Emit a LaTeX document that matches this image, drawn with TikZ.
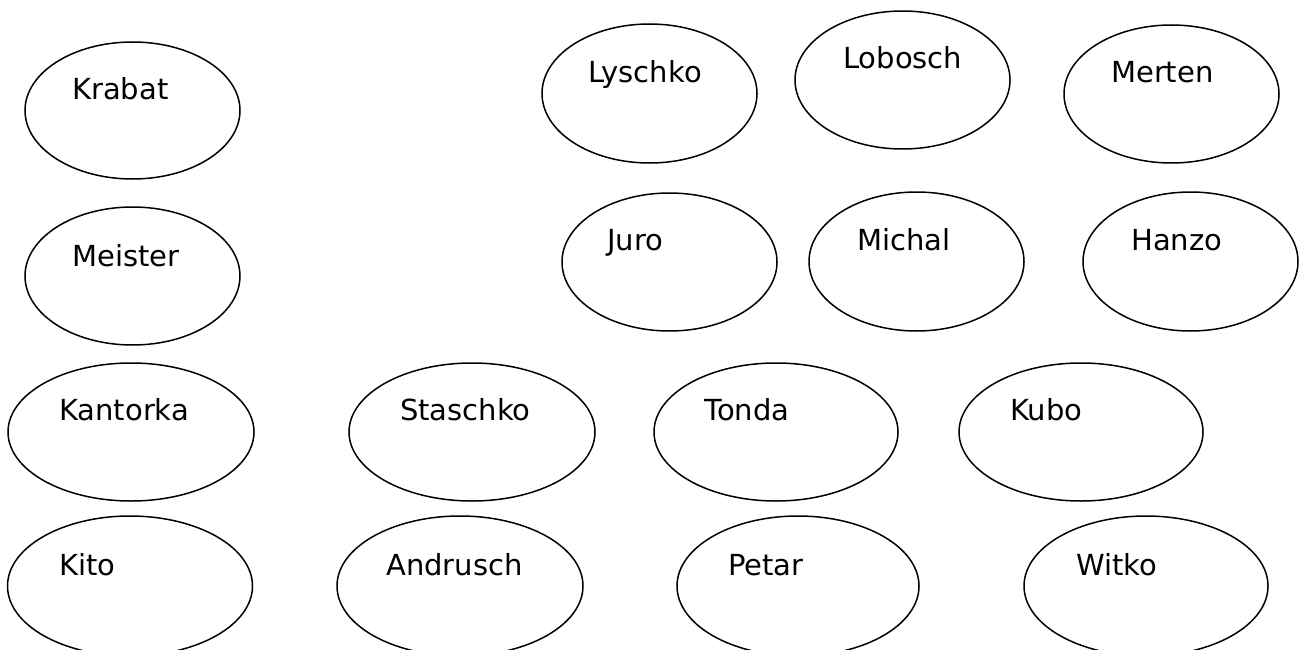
\documentclass[tikz,border=0pt]{standalone}
\usepackage{fontspec}
\setmainfont{DejaVu Sans}
\usetikzlibrary{shapes.geometric}
\begin{document}
\begin{tikzpicture}[x=1pt,y=-1pt,
  oval/.style={draw=black,line width=1.5pt,ellipse,inner sep=0pt},
  lbl/.style={anchor=base west,inner sep=0pt,font=\fontsize{29}{34}\selectfont}]
\useasboundingbox (0,0) rectangle (1301,650);
% ellipses
\node[oval,minimum width=215,minimum height=137] (krabat) at (132.5,110.5) {};
\node[oval,minimum width=215,minimum height=138] (meister) at (132.5,276) {};
\node[oval,minimum width=246,minimum height=138] (kantorka) at (131,432) {};
\node[oval,minimum width=245,minimum height=140] (kito) at (130,586) {};
\node[oval,minimum width=215,minimum height=139] (lyschko) at (649.5,93.5) {};
\node[oval,minimum width=215,minimum height=138] (lobosch) at (902.5,80) {};
\node[oval,minimum width=215,minimum height=138] (merten) at (1171.5,94) {};
\node[oval,minimum width=215,minimum height=138] (juro) at (669.5,262) {};
\node[oval,minimum width=215,minimum height=139] (michal) at (916.5,261.5) {};
\node[oval,minimum width=215,minimum height=139] (hanzo) at (1190.5,261.5) {};
\node[oval,minimum width=246,minimum height=138] (staschko) at (472,432) {};
\node[oval,minimum width=244,minimum height=138] (tonda) at (776,432) {};
\node[oval,minimum width=244,minimum height=138] (kubo) at (1081,432) {};
\node[oval,minimum width=246,minimum height=140] (andrusch) at (460,586) {};
\node[oval,minimum width=242,minimum height=140] (petar) at (798,586) {};
\node[oval,minimum width=244,minimum height=140] (witko) at (1146,586) {};
% labels
\node[lbl] (tkrabat) at (72,100) {Krabat};
\node[lbl] (tmeister) at (72,266) {Meister};
\node[lbl] (tkantorka) at (59,420) {Kantorka};
\node[lbl] (tkito) at (59,575) {Kito};
\node[lbl] (tlyschko) at (588,83) {Lyschko};
\node[lbl] (tlobosch) at (843,69) {Lobosch};
\node[lbl] (tmerten) at (1111,83) {Merten};
\node[lbl] (tjuro) at (607,250) {Juro};
\node[lbl] (tmichal) at (857,250) {Michal};
\node[lbl] (thanzo) at (1131,250) {Hanzo};
\node[lbl] (tstaschko) at (400,420) {Staschko};
\node[lbl] (ttonda) at (704,420) {Tonda};
\node[lbl] (tkubo) at (1010,420) {Kubo};
\node[lbl] (tandrusch) at (386,575) {Andrusch};
\node[lbl] (tpetar) at (728,575) {Petar};
\node[lbl] (twitko) at (1076,575) {Witko};
\end{tikzpicture}
\end{document}
